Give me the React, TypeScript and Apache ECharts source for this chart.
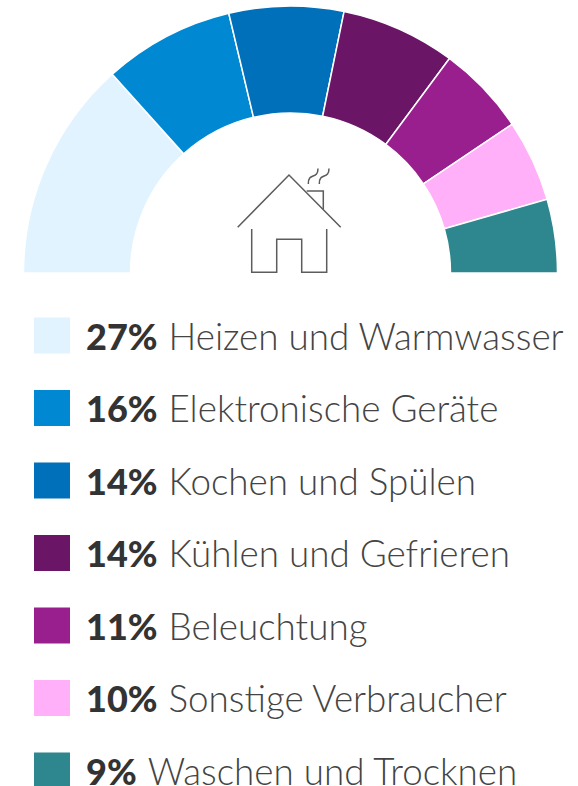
import React, { useEffect, useRef } from "react";
import * as echarts from "echarts";

const categories = [
  "Heizen und Warmwasser",
  "Elektronische Geräte",
  "Kochen und Spülen",
  "Kühlen und Gefrieren",
  "Beleuchtung",
  "Sonstige Verbraucher",
  "Waschen und Trocknen",
];
const values = [27, 16, 14, 14, 11, 10, 9];
const colors = ["#e0f3ff", "#0089d2", "#0070ba", "#6a1566", "#991f8f", "#ffb0f8", "#2e868e"];

const FONT = "Lato";
const stroke = { stroke: "#5c5c5c", lineWidth: 1.5, fill: "none" };
const line = (points: number[][]) => ({ type: "polyline", shape: { points }, style: stroke, silent: true });
const smoke = (dx: number) => ({
  type: "bezierCurve",
  shape: { x1: 308.3 + dx, y1: 184, cpx1: 308 + dx, cpy1: 172, cpx2: 318 + dx, cpy2: 180, x2: 318 + dx, y2: 168.5 },
  style: stroke,
  silent: true,
});

export default function App() {
  const ref = useRef<HTMLDivElement>(null);
  useEffect(() => {
    const chart = echarts.init(ref.current!, undefined, { renderer: "svg" });
    chart.setOption({
      animation: false,
      legend: {
        orient: "vertical",
        left: 34,
        top: 317,
        height: 520,
        padding: 0,
        icon: "rect",
        itemWidth: 36,
        itemHeight: 36,
        itemGap: 35.5,
        selectedMode: false,
        itemStyle: { borderWidth: 0 },
        data: categories,
        formatter: (name: string) => `{b|${values[categories.indexOf(name)]}%}{r|${name}}`,
        textStyle: {
          padding: [0, 0, 0, 11],
          rich: {
            b: { fontFamily: FONT, fontSize: 36, lineHeight: 30, fontWeight: 900, color: "#333333", padding: [0, 11, 0, 0] },
            r: { fontFamily: FONT, fontSize: 36.8, lineHeight: 30, fontWeight: 300, color: "#444444" },
          },
        },
      },
      series: [
        {
          type: "pie",
          center: [290.5, 273],
          radius: [160, 267],
          startAngle: 180,
          endAngle: 0,
          clockwise: true,
          label: { show: false },
          labelLine: { show: false },
          silent: true,
          itemStyle: { borderColor: "#ffffff", borderWidth: 1.5 },
          data: categories.map((name, i) => ({ name, value: values[i], itemStyle: { color: colors[i] } })),
        },
      ],
      graphic: {
        elements: [
          line([[237.7, 227.3], [289, 175], [340.7, 227.3]]),
          line([[251.7, 229], [251.7, 272.3], [276.7, 272.3], [276.7, 239.3], [301.7, 239.3], [301.7, 272.3], [326.7, 272.3], [326.7, 229]]),
          line([[306.7, 191], [323.3, 191], [323.3, 209]]),
          smoke(0),
          smoke(11),
        ],
      },
    });
    return () => chart.dispose();
  }, []);
  return <div ref={ref} style={{ position: "absolute", left: 0, top: 0, width: 578, height: 786, overflow: "hidden", background: "#fff" }} />;
}
